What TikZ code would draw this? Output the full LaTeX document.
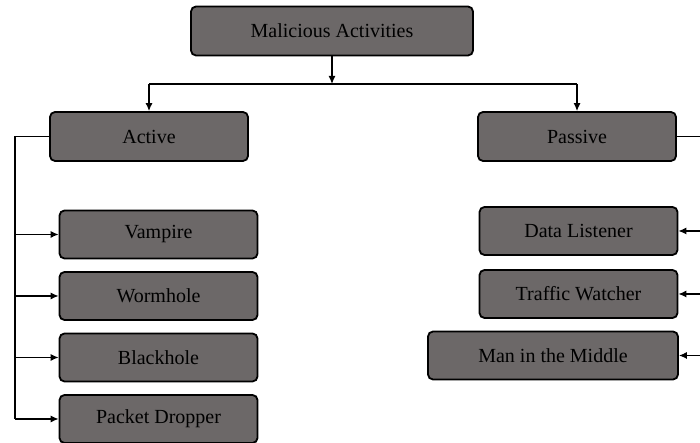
\documentclass[tikz,border=0pt]{standalone}
\usepackage{fontspec}
\setmainfont{Liberation Serif}
\usetikzlibrary{arrows.meta}
\definecolor{boxgray}{RGB}{108,104,104}
\tikzstyle{attack} = [rectangle, rounded corners=5pt, minimum width=198pt, minimum height=48pt, text centered, draw=black, line width=1.8pt, fill=boxgray, font=\fontsize{20}{23}\selectfont]
\tikzstyle{line} = [line width=1.2pt]
\tikzstyle{arrow} = [line width=1.2pt, -{Latex[length=8pt,width=7pt]}]

\begin{document}
\begin{tikzpicture}[x=1pt, y=1pt, node distance=61.5pt]
\useasboundingbox (0,0) rectangle (700,443);

% Root
\node (MA) [attack, minimum width=282pt, minimum height=49pt] at (332,412) {Malicious Activities};

% Categories
\node (A) [attack, minimum height=49pt, below of=MA, yshift=-44pt, xshift=-183pt] {Active};
\node (P) [attack, minimum height=49pt, below of=MA, yshift=-44pt, xshift=245pt] {Passive};

% Active side
\node (V) [attack, below of=A, yshift=-36.5pt, xshift=9.5pt] {Vampire};
\node (W) [attack, below of=V] {Wormhole};
\node (B) [attack, below of=W] {Blackhole};
\node (PD) [attack, below of=B] {Packet Dropper};

% Passive side
\node (DL) [attack, below of=P, yshift=-33pt, xshift=1.5pt] {Data Listener};
\node (TW) [attack, below of=DL, yshift=-1.5pt] {Traffic Watcher};
\node (MM) [attack, minimum width=250pt, below of=TW, xshift=-25.5pt] {Man in the Middle};

% Branch points
\coordinate (fork) at (332,359);
\coordinate (trunkL) at (15,0);
\coordinate (trunkR) at (703,0);

% Connecting arrows
\draw [arrow] (MA.south) -- (fork);
\draw [line] (A.north |- fork) -- (P.north |- fork);
\draw [arrow] (A.north |- fork) -- (A.north);
\draw [arrow] (P.north |- fork) -- (P.north);

\draw [line] (A.west) -- (A.west -| trunkL) -- (PD.west -| trunkL);
\draw [arrow] (V.west -| trunkL) -- (V.west);
\draw [arrow] (W.west -| trunkL) -- (W.west);
\draw [arrow] (B.west -| trunkL) -- (B.west);
\draw [arrow] (PD.west -| trunkL) -- (PD.west);

\draw [line] (P.east) -- (P.east -| trunkR) -- (MM.east -| trunkR);
\draw [arrow] (DL.east -| trunkR) -- (DL.east);
\draw [arrow] (TW.east -| trunkR) -- (TW.east);
\draw [arrow] (MM.east -| trunkR) -- (MM.east);

\end{tikzpicture}
\end{document}
